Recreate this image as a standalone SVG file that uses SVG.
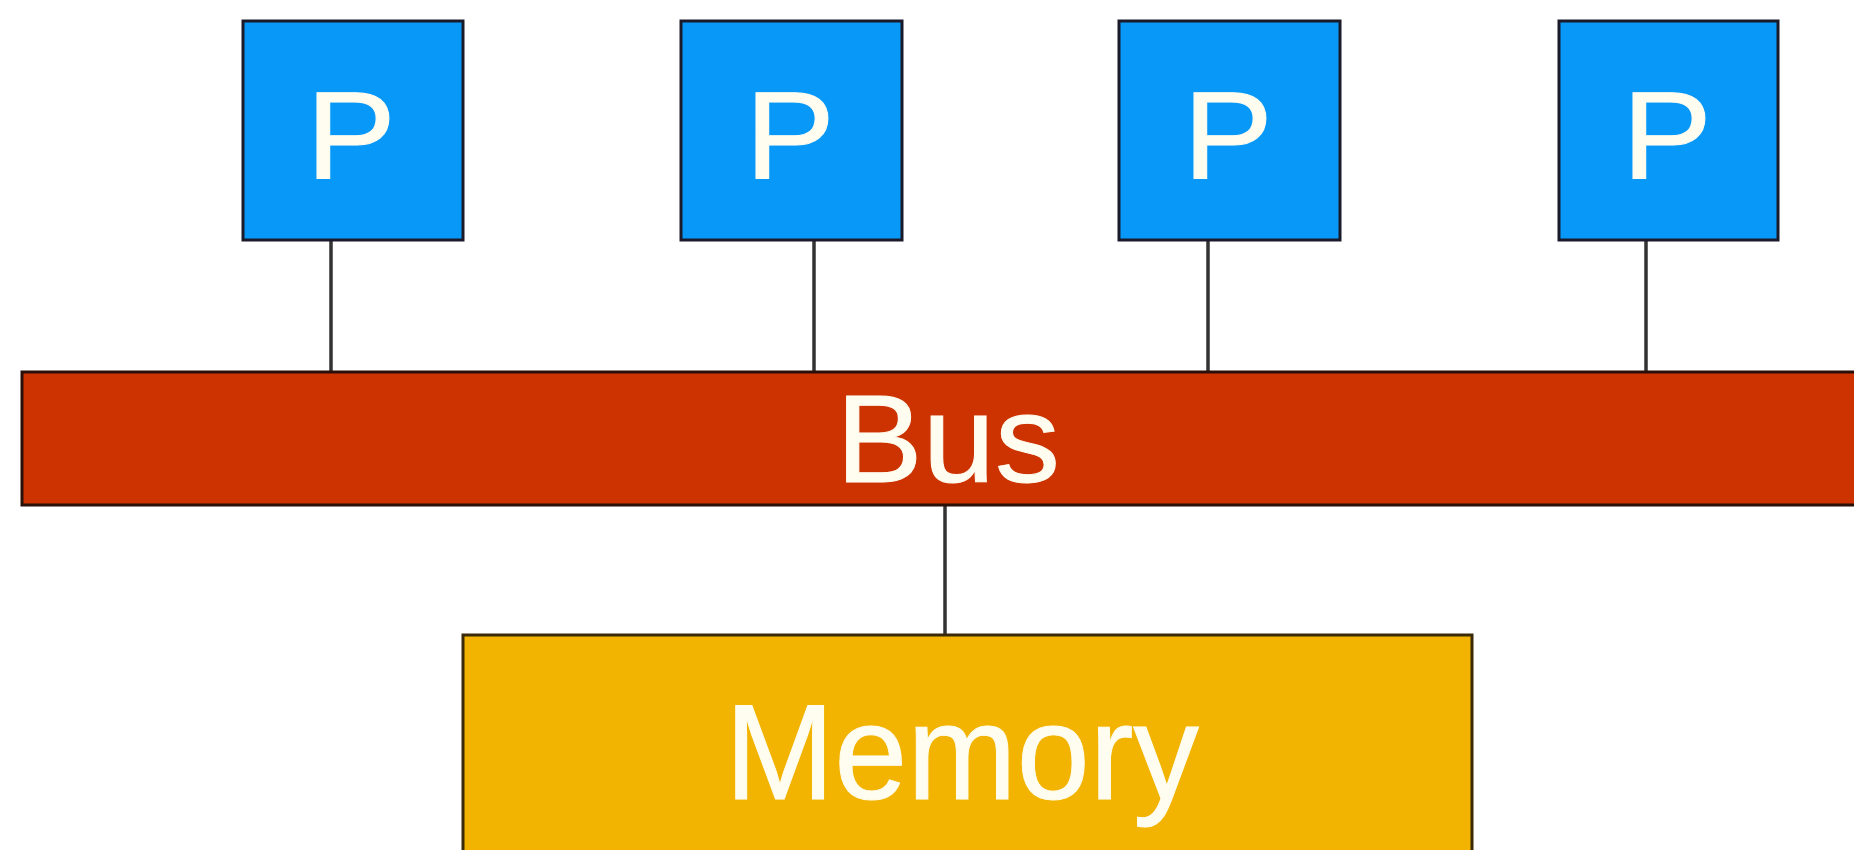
<svg xmlns="http://www.w3.org/2000/svg" width="1854" height="850" viewBox="0 0 1854 850">
  <style>
    .proc { fill: #0898F8; stroke: #1a1a2a; stroke-width: 3; }
    .bus { fill: #CC3300; stroke: #2a1008; stroke-width: 3; }
    .mem { fill: #F2B400; stroke: #3a2a08; stroke-width: 3; }
    .wire { stroke: #333333; stroke-width: 3.5; fill: none; }
    .label { fill: #FFFDF0; stroke: #FFFDF0; stroke-width: 1; font-family: "Liberation Sans", Arimo, Arial, Helvetica, sans-serif; font-stretch: normal; text-anchor: middle; }
  </style>
  <rect x="0" y="0" width="1854" height="850" fill="#FFFFFF"/>

  <!-- links between processors, bus and memory -->
  <g id="connectors">
    <line class="wire" x1="331" y1="241" x2="331" y2="371"/>
    <line class="wire" x1="814" y1="241" x2="814" y2="371"/>
    <line class="wire" x1="1208" y1="241" x2="1208" y2="371"/>
    <line class="wire" x1="1646" y1="241" x2="1646" y2="371"/>
    <line class="wire" x1="945" y1="505" x2="945" y2="635"/>
  </g>

  <g id="p1">
    <rect class="proc" x="243" y="21" width="220" height="219"/>
    <text class="label" x="351" y="178" font-size="125" textLength="90" lengthAdjust="spacingAndGlyphs">P</text>
  </g>
  <g id="p2">
    <rect class="proc" x="681" y="21" width="221" height="219"/>
    <text class="label" x="790" y="178" font-size="125" textLength="90" lengthAdjust="spacingAndGlyphs">P</text>
  </g>
  <g id="p3">
    <rect class="proc" x="1119" y="21" width="221" height="219"/>
    <text class="label" x="1228" y="178" font-size="125" textLength="90" lengthAdjust="spacingAndGlyphs">P</text>
  </g>
  <g id="p4">
    <rect class="proc" x="1559" y="21" width="219" height="219"/>
    <text class="label" x="1667" y="178" font-size="125" textLength="90" lengthAdjust="spacingAndGlyphs">P</text>
  </g>

  <g id="bus">
    <rect class="bus" x="22" y="372" width="1850" height="133"/>
    <text class="label" x="948" y="482" font-size="124" textLength="224" lengthAdjust="spacingAndGlyphs">Bus</text>
  </g>

  <g id="memory">
    <rect class="mem" x="463" y="635" width="1009" height="240"/>
    <text class="label" x="962" y="799" font-size="136" textLength="474" lengthAdjust="spacingAndGlyphs">Memory</text>
  </g>
</svg>
